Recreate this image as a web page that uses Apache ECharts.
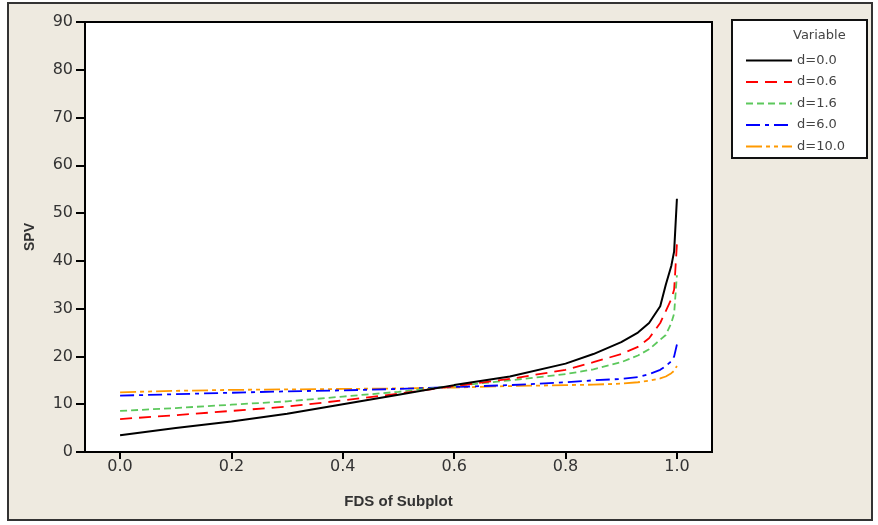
<!DOCTYPE html>
<html>
<head>
<meta charset="utf-8">
<script src="https://cdn.jsdelivr.net/npm/echarts@6/dist/echarts.min.js"></script>
<style>html,body{margin:0;padding:0;background:#fff;}#c{width:878px;height:525px;}</style>
</head>
<body>
<div id="c"></div>
<script>
const xs   = [0, 0.1, 0.2, 0.3, 0.4, 0.5, 0.6, 0.7, 0.8, 0.85, 0.9, 0.93, 0.95, 0.97, 0.98, 0.99, 0.995, 1.0];
const d00  = [3.5, 5.0, 6.4, 8.0, 10.0, 12.0, 14.0, 15.8, 18.5, 20.5, 23.0, 25.0, 27.0, 30.5, 35.0, 39.0, 42.0, 53.0];
const d06  = [6.9, 7.7, 8.6, 9.5, 10.8, 12.2, 13.8, 15.3, 17.2, 18.8, 20.5, 22.0, 23.8, 27.0, 29.5, 32.0, 34.0, 43.5];
const d16  = [8.6, 9.2, 9.9, 10.6, 11.6, 12.6, 13.8, 15.0, 16.3, 17.3, 18.8, 20.2, 21.5, 23.5, 24.5, 27.0, 29.0, 37.0];
const d60  = [11.8, 12.1, 12.4, 12.7, 12.9, 13.2, 13.6, 14.0, 14.6, 15.0, 15.3, 15.7, 16.3, 17.2, 18.0, 19.0, 20.0, 22.5];
const d100 = [12.5, 12.8, 13.0, 13.1, 13.2, 13.3, 13.5, 13.8, 14.0, 14.1, 14.3, 14.6, 14.9, 15.4, 15.8, 16.5, 17.0, 18.0];
const seriesNames = ['d=0.0', 'd=0.6', 'd=1.6', 'd=6.0', 'd=10.0'];
const xTicks = [0, 0.2, 0.4, 0.6, 0.8, 1.0];

const styles = [
  {color: '#000000', type: 'solid', width: 2},
  {color: '#FF0000', type: [12, 7], width: 1.8},
  {color: '#5CC85C', type: [7, 4], width: 1.8},
  {color: '#0000FF', type: [14, 5, 4, 5], width: 1.8},
  {color: '#FF9900', type: [16, 4, 4, 4, 4, 4], width: 1.8}
];
const vals = [d00, d06, d16, d60, d100];
const FONT = '"Liberation Sans", Arial, sans-serif';
const FONT2 = '"DejaVu Sans", sans-serif';

const chart = echarts.init(document.getElementById('c'), null, {renderer: 'canvas'});
chart.setOption({
  animation: false,
  backgroundColor: '#ffffff',
  graphic: [
    {type: 'rect', z: -10, shape: {x: 8, y: 3, width: 864, height: 517},
     style: {fill: '#EEEAE0', stroke: '#333', lineWidth: 2}},
    {type: 'rect', z: 1, shape: {x: 732, y: 20, width: 135, height: 138},
     style: {fill: '#ffffff', stroke: '#111', lineWidth: 2}},
    {type: 'text', z: 2, left: 793, top: 29,
     style: {text: 'Variable', font: '13px ' + FONT2, fill: '#444'}}
  ],
  grid: {left: 85, right: 166, top: 22, bottom: 73, show: true,
         borderColor: '#000', borderWidth: 2, backgroundColor: '#ffffff'},
  legend: {
    orient: 'vertical', left: 740, top: 49, itemWidth: 46, itemHeight: 14,
    itemGap: 8.5, z: 3, itemStyle: {opacity: 0},
    textStyle: {fontFamily: FONT2, fontSize: 13, color: '#444'},
    data: seriesNames
  },
  xAxis: {
    type: 'value', min: -0.063, max: 1.063,
    name: 'FDS of Subplot', nameLocation: 'middle', nameGap: 42,
    nameTextStyle: {fontFamily: FONT, fontSize: 15, fontWeight: 'bold', color: '#333'},
    axisLine: {show: false, onZero: false},
    splitLine: {show: false},
    axisTick: {show: true, length: 7, customValues: xTicks, lineStyle: {color: '#000', width: 2}},
    axisLabel: {customValues: xTicks, margin: 7, fontFamily: FONT2, fontSize: 16, color: '#333',
                formatter: v => v.toFixed(1)}
  },
  yAxis: {
    type: 'value', min: 0, max: 90, interval: 10,
    name: 'SPV', nameLocation: 'middle', nameGap: 48, nameRotate: 90,
    nameTextStyle: {fontFamily: FONT, fontSize: 14, fontWeight: 'bold', color: '#333'},
    axisLine: {show: false, onZero: false},
    splitLine: {show: false},
    axisTick: {show: true, length: 9, lineStyle: {color: '#000', width: 2}},
    axisLabel: {margin: 12, fontFamily: FONT2, fontSize: 16, color: '#333'}
  },
  series: seriesNames.map((n, i) => ({
    name: n, type: 'line', showSymbol: false, symbol: 'none',
    data: xs.map((x, j) => [x, vals[i][j]]),
    lineStyle: {color: styles[i].color, type: styles[i].type, width: styles[i].width},
    itemStyle: {color: styles[i].color},
    z: 10 - i
  }))
});
</script>
</body>
</html>
